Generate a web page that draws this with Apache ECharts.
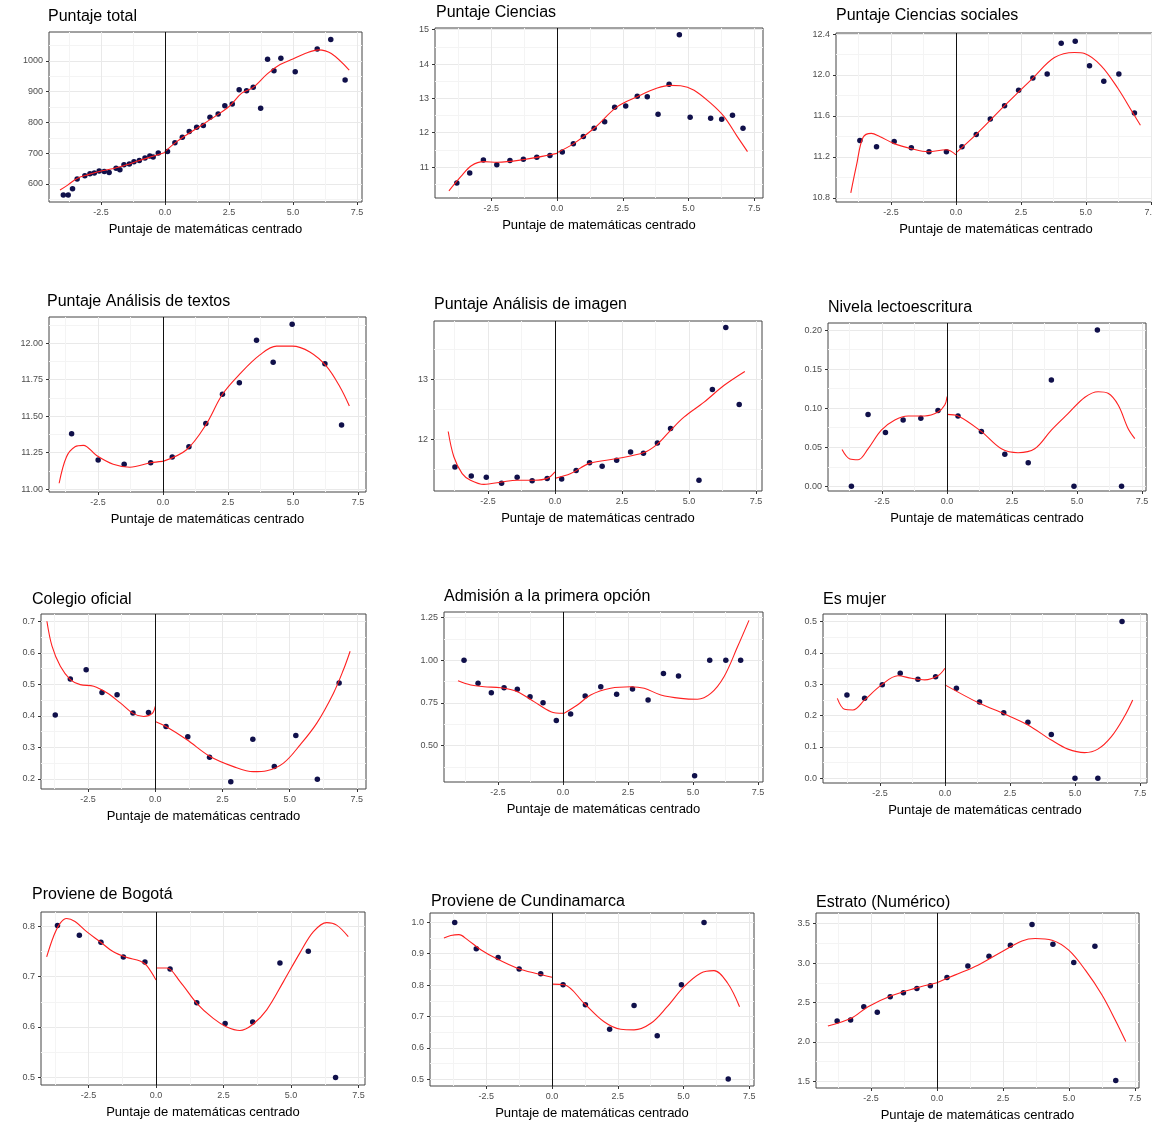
<!DOCTYPE html>
<html>
<head>
<meta charset="utf-8">
<script src="https://cdn.jsdelivr.net/npm/echarts@6/dist/echarts.min.js"></script>
<style>
html,body{margin:0;padding:0;background:#fff;}
#chart{width:1152px;height:1123px;}
</style>
</head>
<body>
<div id="chart"></div>
<script>
// ---------------- DATA ----------------
const X_TITLE = 'Puntaje de matemáticas centrado';
const X_TICKS = [-2.5, 0, 2.5, 5, 7.5];

const TITLES = ['Puntaje total', 'Puntaje Ciencias', 'Puntaje Ciencias sociales',
  'Puntaje Análisis de textos', 'Puntaje Análisis de imagen', 'Nivela lectoescritura',
  'Colegio oficial', 'Admisión a la primera opción', 'Es mujer',
  'Proviene de Bogotá', 'Proviene de Cundinamarca', 'Estrato (Numérico)'];

// Puntaje total
const total_pts = [[-3.97,564],[-3.78,564],[-3.61,584],[-3.43,616],[-3.13,626],[-2.93,633],[-2.76,635],[-2.57,642],[-2.37,640],[-2.18,637],[-1.91,651],[-1.76,646],[-1.60,662],[-1.39,665],[-1.21,672],[-1.00,676],[-0.78,684],[-0.59,691],[-0.46,687],[-0.26,700],[0.10,705],[0.39,734],[0.68,752],[0.95,770],[1.24,784],[1.50,790],[1.76,817],[2.08,827],[2.34,854],[2.63,860],[2.90,906],[3.19,903],[3.45,914],[3.74,846],[4.01,1005],[4.26,968],[4.53,1009],[5.09,965],[5.95,1039],[6.48,1070],[7.04,938]];
const total_fitL = [[-4.1,580],[-3.8,596],[-3.45,617],[-3.0,630],[-2.5,642],[-2.0,650],[-1.5,662],[-1.0,676],[-0.5,689],[0,702]];
const total_fitR = [[0,705],[0.5,740],[1.25,781],[2.0,822],[2.5,851],[3.0,895],[3.45,914],[4.0,958],[4.5,988],[5.0,1006],[5.5,1025],[6.0,1036],[6.5,1024],[7.2,970]];
const total_yticks = [600, 700, 800, 900, 1000];

// Puntaje Ciencias
const cien_pts = [[-3.81,10.54],[-3.32,10.83],[-2.80,11.21],[-2.29,11.07],[-1.79,11.19],[-1.28,11.23],[-0.77,11.29],[-0.27,11.34],[0.20,11.44],[0.62,11.68],[1.00,11.89],[1.41,12.13],[1.81,12.32],[2.19,12.74],[2.61,12.78],[3.05,13.06],[3.43,13.05],[3.84,12.54],[4.26,13.41],[4.65,14.85],[5.06,12.45],[5.84,12.42],[6.26,12.39],[6.67,12.51],[7.07,12.13]];
const cien_fitL = [[-4.11,10.31],[-3.66,10.72],[-3.26,11.04],[-2.78,11.16],[-2.27,11.14],[-1.25,11.22],[-0.24,11.36],[0,11.40]];
const cien_fitR = [[0,11.42],[0.65,11.69],[1.41,12.13],[2.29,12.76],[3.05,13.05],[3.81,13.30],[4.31,13.38],[4.70,13.37],[5.21,13.24],[5.84,12.86],[6.35,12.47],[6.86,11.88],[7.24,11.45]];
const cien_yticks = [11, 12, 13, 14, 15];

// Puntaje Ciencias sociales
const soc_pts = [[-3.70,11.36],[-3.06,11.30],[-2.38,11.35],[-1.72,11.29],[-1.04,11.25],[-0.37,11.25],[0.23,11.30],[0.78,11.42],[1.32,11.57],[1.87,11.70],[2.41,11.85],[2.96,11.97],[3.51,12.01],[4.05,12.31],[4.59,12.33],[5.14,12.09],[5.69,11.94],[6.27,12.01],[6.87,11.63]];
const soc_fitL = [[-4.05,10.85],[-3.83,11.12],[-3.58,11.39],[-3.26,11.43],[-2.94,11.40],[-2.38,11.33],[-1.72,11.28],[-1.08,11.25],[-0.37,11.27],[0,11.22]];
const soc_fitR = [[0,11.24],[0.78,11.42],[1.87,11.70],[2.96,11.97],[3.79,12.17],[4.56,12.22],[4.95,12.21],[5.59,12.09],[6.23,11.87],[6.81,11.63],[7.10,11.51]];
const soc_yticks = [10.8, 11.2, 11.6, 12.0, 12.4];

// Puntaje Análisis de textos
const txt_pts = [[-3.51,11.38],[-2.49,11.20],[-1.49,11.17],[-0.47,11.18],[0.36,11.22],[1.00,11.29],[1.65,11.45],[2.29,11.65],[2.94,11.73],[3.60,12.02],[4.24,11.87],[4.97,12.13],[6.23,11.86],[6.87,11.44]];
const txt_fitL = [[-3.99,11.04],[-3.71,11.22],[-3.38,11.29],[-3.06,11.30],[-2.55,11.23],[-1.91,11.17],[-1.27,11.15],[-0.47,11.18],[0,11.19]];
const txt_fitR = [[0,11.19],[0.91,11.27],[1.65,11.44],[2.29,11.65],[2.96,11.79],[3.73,11.92],[4.37,11.98],[4.97,11.98],[5.65,11.94],[6.30,11.84],[6.81,11.70],[7.17,11.57]];
const txt_yticks = [11.00, 11.25, 11.50, 11.75, 12.00];

// Puntaje Análisis de imagen
const img_pts = [[-3.73,11.54],[-3.12,11.39],[-2.56,11.37],[-1.99,11.27],[-1.41,11.37],[-0.85,11.31],[-0.29,11.35],[0.25,11.34],[0.79,11.48],[1.29,11.61],[1.76,11.55],[2.30,11.65],[2.82,11.79],[3.30,11.77],[3.82,11.94],[4.31,12.18],[5.37,11.32],[5.87,12.83],[6.37,13.86],[6.87,12.58]];
const img_fitL = [[-3.98,12.13],[-3.77,11.71],[-3.46,11.43],[-3.15,11.32],[-2.65,11.25],[-1.99,11.29],[-1.41,11.32],[-0.78,11.32],[-0.29,11.35],[0,11.46]];
const img_fitR = [[0,11.35],[0.59,11.43],[1.29,11.60],[2.32,11.68],[3.32,11.78],[3.82,11.92],[4.31,12.15],[4.81,12.37],[5.56,12.62],[6.31,12.90],[7.08,13.13]];
const img_yticks = [12, 13];

// Nivela lectoescritura
const lec_pts = [[-3.68,0],[-3.04,0.092],[-2.37,0.069],[-1.69,0.085],[-1.01,0.087],[-0.35,0.097],[0.42,0.090],[1.32,0.070],[2.22,0.041],[3.12,0.030],[4.01,0.136],[4.88,0],[5.78,0.200],[6.71,0]];
const lec_fitL = [[-4.04,0.047],[-3.74,0.035],[-3.42,0.034],[-3.04,0.048],[-2.53,0.072],[-2.01,0.085],[-1.50,0.090],[-0.86,0.090],[-0.35,0.095],[-0.09,0.104],[0,0.115]];
const lec_fitR = [[0,0.092],[0.42,0.090],[1.32,0.070],[2.09,0.048],[2.73,0.043],[3.37,0.048],[4.01,0.072],[4.65,0.093],[5.30,0.114],[5.81,0.121],[6.19,0.119],[6.58,0.104],[6.96,0.074],[7.22,0.061]];
const lec_yticks = [0.00, 0.05, 0.10, 0.15, 0.20];

// Colegio oficial
const ofi_pts = [[-3.72,0.403],[-3.16,0.517],[-2.57,0.546],[-1.98,0.474],[-1.42,0.467],[-0.83,0.409],[-0.25,0.411],[0.40,0.366],[1.21,0.334],[2.02,0.269],[2.81,0.191],[3.63,0.326],[4.43,0.239],[5.23,0.338],[6.03,0.199],[6.84,0.504]];
const ofi_fitL = [[-4.03,0.700],[-3.84,0.621],[-3.53,0.557],[-3.16,0.515],[-2.79,0.499],[-2.29,0.494],[-1.80,0.473],[-1.30,0.441],[-0.81,0.407],[-0.43,0.398],[-0.12,0.407],[0,0.430]];
const ofi_fitR = [[0,0.382],[0.40,0.366],[1.18,0.324],[2.04,0.271],[2.91,0.239],[3.65,0.223],[4.15,0.226],[4.77,0.250],[5.39,0.308],[6.01,0.377],[6.63,0.472],[7.00,0.546],[7.25,0.605]];
const ofi_yticks = [0.2, 0.3, 0.4, 0.5, 0.6, 0.7];

// Admisión a la primera opción
const adm_pts = [[-3.81,1.000],[-3.27,0.864],[-2.76,0.809],[-2.27,0.838],[-1.76,0.829],[-1.27,0.786],[-0.77,0.751],[-0.26,0.646],[0.29,0.685],[0.85,0.790],[1.45,0.844],[2.06,0.800],[2.67,0.831],[3.27,0.766],[3.86,0.922],[4.44,0.907],[5.06,0.323],[5.64,1.000],[6.26,1.000],[6.83,1.000]];
const adm_fitL = [[-4.04,0.879],[-3.55,0.854],[-3.04,0.844],[-2.40,0.838],[-1.76,0.815],[-1.12,0.757],[-0.47,0.698],[0,0.689]];
const adm_fitR = [[0,0.685],[0.55,0.737],[1.06,0.796],[1.83,0.835],[2.60,0.844],[3.12,0.835],[3.76,0.796],[4.53,0.776],[5.17,0.771],[5.68,0.805],[6.19,0.903],[6.71,1.078],[7.15,1.233]];
const adm_yticks = [0.50, 0.75, 1.00, 1.25];

// Es mujer
const muj_pts = [[-3.77,0.266],[-3.09,0.255],[-2.41,0.298],[-1.72,0.335],[-1.04,0.316],[-0.36,0.324],[0.44,0.287],[1.33,0.243],[2.26,0.209],[3.19,0.179],[4.09,0.140],[5.00,0],[5.88,0],[6.81,0.500]];
const muj_fitL = [[-4.14,0.255],[-3.86,0.220],[-3.54,0.218],[-3.09,0.250],[-2.44,0.298],[-1.81,0.327],[-1.29,0.319],[-0.78,0.314],[-0.27,0.327],[0,0.351]];
const muj_fitR = [[0,0.298],[1.33,0.239],[2.29,0.205],[3.19,0.170],[4.09,0.122],[4.73,0.093],[5.37,0.082],[5.88,0.093],[6.40,0.133],[6.90,0.197],[7.22,0.250]];
const muj_yticks = [0.0, 0.1, 0.2, 0.3, 0.4, 0.5];

// Proviene de Bogotá
const bog_pts = [[-3.65,0.801],[-2.84,0.782],[-2.04,0.768],[-1.21,0.739],[-0.41,0.729],[0.52,0.715],[1.51,0.648],[2.56,0.607],[3.58,0.610],[4.59,0.727],[5.64,0.750],[6.65,0.500]];
const bog_fitL = [[-4.05,0.739],[-3.80,0.779],[-3.56,0.805],[-3.31,0.815],[-3.00,0.809],[-2.57,0.789],[-2.07,0.769],[-1.58,0.749],[-1.09,0.738],[-0.59,0.731],[-0.35,0.722],[0,0.693]];
const bog_fitR = [[0,0.717],[0.40,0.717],[0.89,0.690],[1.51,0.647],[2.12,0.617],[2.62,0.600],[3.11,0.593],[3.58,0.605],[4.10,0.634],[4.72,0.690],[5.33,0.747],[5.83,0.789],[6.32,0.807],[6.69,0.802],[7.12,0.779]];
const bog_yticks = [0.5, 0.6, 0.7, 0.8];

// Proviene de Cundinamarca
const cun_pts = [[-3.70,1.000],[-2.88,0.916],[-2.05,0.888],[-1.25,0.851],[-0.43,0.836],[0.42,0.801],[1.27,0.737],[2.19,0.659],[3.12,0.735],[4.00,0.638],[4.92,0.801],[5.78,1.000],[6.70,0.500]];
const cun_fitL = [[-4.11,0.950],[-3.85,0.958],[-3.54,0.961],[-3.22,0.945],[-2.71,0.913],[-2.08,0.883],[-1.32,0.854],[-0.56,0.836],[0,0.825]];
const cun_fitR = [[0,0.803],[0.46,0.801],[1.22,0.742],[1.98,0.683],[2.61,0.659],[3.12,0.657],[3.76,0.678],[4.38,0.731],[5.02,0.795],[5.65,0.838],[6.16,0.846],[6.68,0.806],[7.13,0.731]];
const cun_yticks = [0.5, 0.6, 0.7, 0.8, 0.9, 1.0];

// Estrato (Numérico)
const est_pts = [[-3.78,2.266],[-3.27,2.279],[-2.77,2.447],[-2.26,2.376],[-1.77,2.573],[-1.27,2.624],[-0.76,2.679],[-0.25,2.712],[0.38,2.818],[1.17,2.961],[1.97,3.087],[2.78,3.226],[3.60,3.487],[4.39,3.239],[5.18,3.008],[5.98,3.213],[6.77,1.513]];
const est_fitL = [[-4.13,2.203],[-3.25,2.300],[-2.61,2.447],[-1.73,2.586],[-0.84,2.679],[0,2.750]];
const est_fitR = [[0,2.750],[0.67,2.847],[1.55,2.973],[2.44,3.141],[3.22,3.280],[3.72,3.311],[4.36,3.289],[4.99,3.163],[5.62,2.910],[6.25,2.595],[6.75,2.279],[7.15,2.005]];
const est_yticks = [1.5, 2.0, 2.5, 3.0, 3.5];

// ---------------- LAYOUT ----------------
const FONT = '"Liberation Sans", Arial, Helvetica, sans-serif';
const PT_COLOR = '#10104a';
const panels = [
  {pts: total_pts, L: total_fitL, R: total_fitR, yt: total_yticks, dec: 0, box: [49, 32, 313, 170], xr: [-4.53, 7.70], yr: [541, 1094], tp: [48, 9]},
  {pts: cien_pts, L: cien_fitL, R: cien_fitR, yt: cien_yticks, dec: 0, box: [435, 28, 328, 170], xr: [-4.64, 7.83], yr: [10.10, 15.05], tp: [436, 5]},
  {pts: soc_pts, L: soc_fitL, R: soc_fitR, yt: soc_yticks, dec: 1, box: [836, 33, 320, 169], xr: [-4.62, 7.70], yr: [10.76, 12.41], tp: [836, 8]},
  {pts: txt_pts, L: txt_fitL, R: txt_fitR, yt: txt_yticks, dec: 2, box: [49, 317, 317, 175], xr: [-4.38, 7.81], yr: [10.98, 12.18], tp: [47, 294]},
  {pts: img_pts, L: img_fitL, R: img_fitR, yt: img_yticks, dec: 0, box: [434, 321, 328, 170], xr: [-4.51, 7.72], yr: [11.14, 13.97], tp: [434, 297]},
  {pts: lec_pts, L: lec_fitL, R: lec_fitR, yt: lec_yticks, dec: 2, box: [828, 323, 318, 168], xr: [-4.58, 7.65], yr: [-0.006, 0.209], tp: [828, 300]},
  {pts: ofi_pts, L: ofi_fitL, R: ofi_fitR, yt: ofi_yticks, dec: 1, box: [41, 614, 325, 175], xr: [-4.25, 7.84], yr: [0.168, 0.723], tp: [32, 592]},
  {pts: adm_pts, L: adm_fitL, R: adm_fitR, yt: adm_yticks, dec: 2, box: [444, 612, 319, 170], xr: [-4.58, 7.69], yr: [0.286, 1.282], tp: [444, 589]},
  {pts: muj_pts, L: muj_fitL, R: muj_fitR, yt: muj_yticks, dec: 1, box: [823, 614, 324, 169], xr: [-4.69, 7.77], yr: [-0.015, 0.524], tp: [823, 592]},
  {pts: bog_pts, L: bog_fitL, R: bog_fitR, yt: bog_yticks, dec: 1, box: [41, 912, 324, 173], xr: [-4.26, 7.74], yr: [0.485, 0.828], tp: [32, 887]},
  {pts: cun_pts, L: cun_fitL, R: cun_fitR, yt: cun_yticks, dec: 1, box: [430, 913, 324, 173], xr: [-4.64, 7.68], yr: [0.478, 1.030], tp: [431, 894]},
  {pts: est_pts, L: est_fitL, R: est_fitR, yt: est_yticks, dec: 1, box: [816, 913, 323, 175], xr: [-4.58, 7.65], yr: [1.417, 3.634], tp: [816, 895]}
];

function minorOf(ticks, lo, hi) {
  const s = (ticks[1] - ticks[0]) / 2;
  const out = [];
  for (let v = ticks[0] - s; v <= hi + 1e-9; v += 2 * s) {
    if (v >= lo - 1e-9) out.push(+v.toFixed(6));
  }
  return out;
}

const grid = [], xAxis = [], yAxis = [], series = [], title = [];
const GRID_MAJOR = '#e9e9e9', GRID_MINOR = '#f4f4f4';
const labelStyle = {fontSize: 9, color: '#4d4d4d', fontFamily: FONT};

panels.forEach((p, i) => {
  grid.push({left: p.box[0], top: p.box[1], width: p.box[2], height: p.box[3],
    show: true, borderColor: '#444', borderWidth: 1, backgroundColor: 'transparent',
    containLabel: false, outerBoundsMode: 'none'});
  title.push({text: TITLES[i], left: p.tp[0], top: p.tp[1], padding: 0,
    textStyle: {fontSize: 16, fontWeight: 'normal', color: '#000', fontFamily: FONT}});
  const xMinor = minorOf(X_TICKS, p.xr[0], p.xr[1]);
  const yMinor = minorOf(p.yt, p.yr[0], p.yr[1]);
  // minor grid axes (index 2i)
  xAxis.push({gridIndex: i, type: 'value', min: p.xr[0], max: p.xr[1], position: 'bottom',
    axisLine: {show: false, onZero: false}, axisTick: {show: false, customValues: xMinor},
    axisLabel: {show: false, customValues: xMinor},
    splitLine: {show: true, lineStyle: {color: GRID_MINOR, width: 1}}});
  yAxis.push({gridIndex: i, type: 'value', min: p.yr[0], max: p.yr[1], position: 'left',
    axisLine: {show: false, onZero: false}, axisTick: {show: false, customValues: yMinor},
    axisLabel: {show: false, customValues: yMinor},
    splitLine: {show: true, lineStyle: {color: GRID_MINOR, width: 1}}});
  // major axes (index 2i+1)
  xAxis.push({gridIndex: i, type: 'value', min: p.xr[0], max: p.xr[1], position: 'bottom',
    axisLine: {show: false, onZero: false},
    axisTick: {show: true, length: 3, customValues: X_TICKS, lineStyle: {color: '#333', width: 1}},
    axisLabel: Object.assign({customValues: X_TICKS, margin: 6, formatter: v => (+v).toFixed(1)}, labelStyle),
    splitLine: {show: true, lineStyle: {color: GRID_MAJOR, width: 1}},
    name: X_TITLE, nameLocation: 'middle', nameGap: 21,
    nameTextStyle: {fontSize: 13, color: '#000', fontFamily: FONT}});
  yAxis.push({gridIndex: i, type: 'value', min: p.yr[0], max: p.yr[1], position: 'left',
    axisLine: {show: false, onZero: false},
    axisTick: {show: true, length: 3, customValues: p.yt, lineStyle: {color: '#333', width: 1}},
    axisLabel: Object.assign({customValues: p.yt, margin: 6, formatter: v => (+v).toFixed(p.dec)}, labelStyle),
    splitLine: {show: true, lineStyle: {color: GRID_MAJOR, width: 1}}});

  const ax = 2 * i + 1;
  series.push({type: 'scatter', xAxisIndex: ax, yAxisIndex: ax, data: p.pts,
    symbol: 'circle', symbolSize: 5.5, itemStyle: {color: PT_COLOR, opacity: 1}, z: 2,
    markLine: {silent: true, symbol: 'none', animation: false, label: {show: false},
      lineStyle: {color: '#111', width: 1, type: 'solid'}, data: [{xAxis: 0}]}});
  [p.L, p.R].forEach(fit => {
    series.push({type: 'line', xAxisIndex: ax, yAxisIndex: ax, data: fit, smooth: 0.35,
      showSymbol: false, symbol: 'none', lineStyle: {color: '#ff2020', width: 1.1}, z: 3});
  });
});

const chart = echarts.init(document.getElementById('chart'), null, {renderer: 'canvas'});
chart.setOption({animation: false, backgroundColor: '#ffffff', title, grid, xAxis, yAxis, series});
</script>
</body>
</html>
